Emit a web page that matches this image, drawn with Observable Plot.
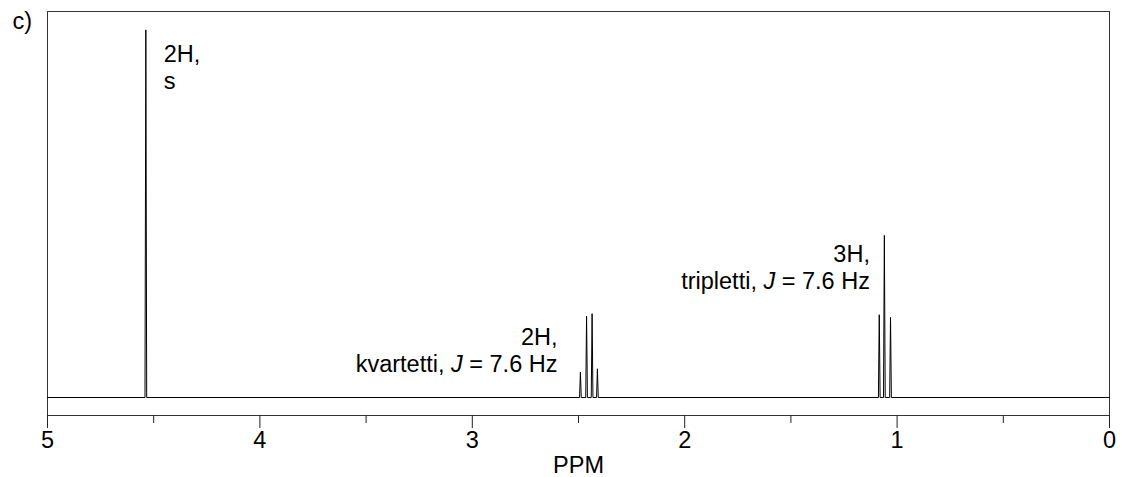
<!DOCTYPE html>
<html>
<head>
<meta charset="utf-8">
<script src="https://cdn.jsdelivr.net/npm/d3@7"></script>
<script src="https://cdn.jsdelivr.net/npm/@observablehq/plot@0.6"></script>
<style>
  html, body { margin: 0; padding: 0; background: #fff; }
  #chart svg { display: block; }
</style>
</head>
<body>
<div id="chart"></div>
<script>
// Peak list (ppm, relative intensity; singlet = 100)
const peakPPM = [4.537, 2.491, 2.462, 2.436, 2.411, 1.084, 1.060, 1.031];
const peakHeight = [100, 6.9, 22.1, 22.8, 7.8, 22.5, 44.1, 21.8];

// Axis ticks
const majorTicks = [5, 4, 3, 2, 1, 0];
const minorTicks = [4.5, 3.5, 2.5, 1.5, 0.5];

// Annotations
const labelText = ["2H,\ns", "2H,\nkvartetti, J = 7.6 Hz", "3H,\ntripletti, J = 7.6 Hz"];
const labelPPM = [4.453, 2.599, 1.128];
const labelY = [84.0, 6.9, 29.6];
const labelAnchor = ["start", "end", "end"];

const panelLabel = "c)";
const xTitle = "PPM";

// Build spectrum polyline from the peak list (narrow lines on a flat baseline)
const halfBase = 0.004;
const spectrum = [{ppm: 5, v: 0}];
peakPPM.forEach((c, i) => {
  spectrum.push({ppm: c + halfBase, v: 0}, {ppm: c, v: peakHeight[i]}, {ppm: c - halfBase, v: 0});
});
spectrum.push({ppm: 0, v: 0});

const labels = labelText.map((t, i) => ({t, x: labelPPM[i], y: labelY[i], a: labelAnchor[i]}));

const font = "'Liberation Sans', Arial, Helvetica, sans-serif";
const fs = 23.5;

const svg = Plot.plot({
  width: 1123,
  height: 477,
  marginLeft: 47,
  marginRight: 14,
  marginTop: 11,
  marginBottom: 62,
  style: {fontFamily: font, fontSize: fs + "px", background: "#fff", color: "#000", overflow: "visible"},
  x: {domain: [5, 0], label: null},
  y: {domain: [-4.9, 105], axis: null},
  marks: [
    Plot.frame({stroke: "#333", strokeWidth: 1}),
    Plot.line(spectrum, {x: "ppm", y: "v", stroke: "#000", strokeWidth: 1}),
    Plot.axisX({ticks: majorTicks, tickSize: 13, tickPadding: 3, tickFormat: d => String(d), fontSize: fs, label: null, stroke: "#222"}),
    Plot.axisX({ticks: minorTicks, tickSize: 8, tickFormat: () => "", label: null, stroke: "#222"}),
    ...labels.map(l => Plot.text([l], {x: "x", y: "y", text: "t", textAnchor: l.a, lineAnchor: "bottom", lineHeight: 1.14, fontSize: fs, fill: "#000"})),
    Plot.text([panelLabel], {text: d => d, frameAnchor: "top-left", textAnchor: "start", lineAnchor: "top", dx: -35, dy: 1, fontSize: fs, fill: "#000"}),
    Plot.text([xTitle], {text: d => d, frameAnchor: "bottom", textAnchor: "middle", lineAnchor: "bottom", dy: 57, fontSize: fs, fill: "#000"})
  ]
});

// Italicise the coupling constant symbol J
const ns = "http://www.w3.org/2000/svg";
svg.querySelectorAll("text, tspan").forEach(el => {
  if (el.children.length === 0 && el.textContent.includes("J =")) {
    const [a, b] = el.textContent.split("J");
    el.textContent = "";
    el.append(a);
    const it = document.createElementNS(ns, "tspan");
    it.setAttribute("font-style", "italic");
    it.textContent = "J";
    el.append(it);
    el.append(b);
  }
});

document.getElementById("chart").append(svg);
</script>
</body>
</html>
